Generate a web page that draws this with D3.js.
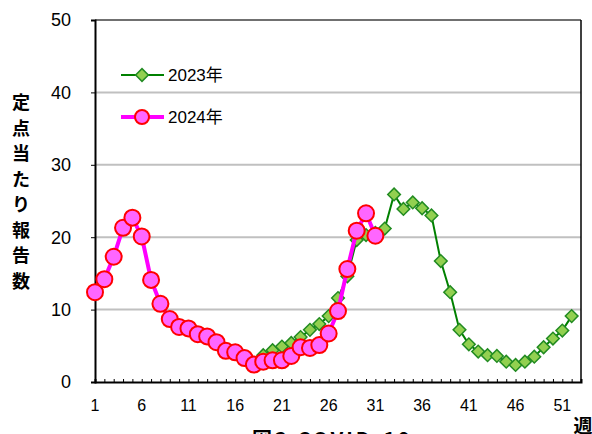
<!DOCTYPE html>
<html>
<head>
<meta charset="utf-8">
<script src="https://cdn.jsdelivr.net/npm/d3@7"></script>
<style>
  body { margin: 0; background: #fff; }
  svg { display: block; }
  .tick-label { font-family: "Liberation Sans", Arial, sans-serif; fill: #000; }
</style>
</head>
<body>
<div id="chart"></div>
<script>
// weeks and values
var weeks2024 = d3.range(1, 32);
var values2024 = [12.4, 14.2, 17.3, 21.3, 22.7, 20.1, 14.1, 10.8, 8.7, 7.6,
                  7.4, 6.6, 6.3, 5.5, 4.3, 4.1, 3.3, 2.4, 2.8, 3.0,
                  3.0, 3.6, 4.8, 4.7, 5.1, 6.7, 9.8, 15.6, 20.9, 23.3, 20.2];

var weeks2023 = d3.range(19, 53);
var values2023 = [3.7, 4.4, 4.9, 5.4, 6.2, 7.2, 8.0, 9.1, 11.6, 14.6,
                  19.6, 20.3, 20.6, 21.2, 25.9, 23.9, 24.8, 24.0, 23.0, 16.7,
                  12.4, 7.2, 5.2, 4.2, 3.7, 3.6, 2.8, 2.35, 2.8, 3.5,
                  4.8, 6.0, 7.1, 9.1];

var yTicks = [0, 10, 20, 30, 40, 50];
var xTicks = [1, 6, 11, 16, 21, 26, 31, 36, 41, 46, 51];
var yTitle = ["定", "点", "当", "た", "り", "報", "告", "数"];

var W = 592, H = 434;
var plotLeft = 95, plotRight = 581, plotTop = 20, plotBottom = 382;

var svg = d3.select("#chart").append("svg")
  .attr("width", W)
  .attr("height", H);

var x = d3.scaleLinear().domain([1, 53]).range([plotLeft, plotRight]);
var y = d3.scaleLinear().domain([0, 50]).range([plotBottom, plotTop]);

// gridlines
svg.append("g")
  .selectAll("line")
  .data(yTicks.filter(d => d > 0 && d < 50))
  .enter().append("line")
    .attr("x1", plotLeft).attr("x2", plotRight)
    .attr("y1", d => y(d)).attr("y2", d => y(d))
    .attr("stroke", "#c0c0c0")
    .attr("stroke-width", 2);

// frame: top and right
svg.append("line")
  .attr("x1", plotLeft).attr("x2", plotRight)
  .attr("y1", y(50)).attr("y2", y(50))
  .attr("stroke", "#404040").attr("stroke-width", 1.5);
svg.append("line")
  .attr("x1", plotRight).attr("x2", plotRight)
  .attr("y1", y(50)).attr("y2", y(0))
  .attr("stroke", "#000").attr("stroke-width", 1.5);

// Y axis
svg.append("g")
  .attr("transform", "translate(" + plotLeft + ",0)")
  .call(d3.axisLeft(y).tickValues(yTicks).tickSize(4).tickFormat(""))
  .call(g => g.select(".domain").attr("stroke-width", 2));

svg.append("g")
  .selectAll("text")
  .data(yTicks)
  .enter().append("text")
    .attr("class", "tick-label")
    .attr("x", 71)
    .attr("y", d => y(d))
    .attr("dy", "0.36em")
    .attr("text-anchor", "end")
    .style("font-size", "18px")
    .text(d => d);

// X axis with a small inside tick for every week
svg.append("g")
  .attr("transform", "translate(0," + plotBottom + ")")
  .call(d3.axisBottom(x).tickValues(d3.range(1, 54)).tickSize(-3).tickFormat(""))
  .call(g => g.select(".domain").attr("stroke-width", 2))
  .call(g => g.selectAll(".tick line").attr("stroke-width", 1));

svg.append("g")
  .selectAll("text")
  .data(xTicks)
  .enter().append("text")
    .attr("class", "tick-label")
    .attr("x", d => x(d))
    .attr("y", 411)
    .attr("text-anchor", "middle")
    .style("font-size", "16px")
    .text(d => d);

// vertical y axis title
svg.append("g")
  .selectAll("text")
  .data(yTitle)
  .enter().append("text")
    .attr("x", 21)
    .attr("y", (d, i) => 109 + i * 25.5)
    .attr("text-anchor", "middle")
    .style("font-family", "'Noto Sans CJK JP', sans-serif")
    .style("font-size", "18px")
    .style("font-weight", "bold")
    .text(d => d);

// x axis unit
svg.append("text")
  .attr("x", 583)
  .attr("y", 433)
  .attr("text-anchor", "middle")
  .style("font-family", "'Noto Sans CJK JP', sans-serif")
  .style("font-size", "19px")
  .style("font-weight", "bold")
  .text("週");

// figure caption, cut off at the bottom edge
svg.append("text")
  .attr("x", 252)
  .attr("y", 447)
  .style("font-family", "'Noto Sans CJK JP', sans-serif")
  .style("font-size", "20px")
  .style("font-weight", "bold")
  .style("letter-spacing", "3px")
  .text("図3 COVID-19");

var line = d3.line().x(d => x(d[0])).y(d => y(d[1]));
var diamond = d3.symbol().type(d3.symbolSquare).size(80);

var data2023 = weeks2023.map((w, i) => [w, values2023[i]]);
var data2024 = weeks2024.map((w, i) => [w, values2024[i]]);

// 2023 series
svg.append("path")
  .datum(data2023)
  .attr("fill", "none")
  .attr("stroke", "#008000")
  .attr("stroke-width", 2)
  .attr("d", line);

svg.append("g")
  .selectAll("path")
  .data(data2023)
  .enter().append("path")
    .attr("d", diamond)
    .attr("transform", d => "translate(" + x(d[0]) + "," + y(d[1]) + ") rotate(45)")
    .attr("fill", "#92d050")
    .attr("stroke", "#228b22")
    .attr("stroke-width", 1.5);

// 2024 series
svg.append("path")
  .datum(data2024)
  .attr("fill", "none")
  .attr("stroke", "#ff00ff")
  .attr("stroke-width", 4)
  .attr("d", line);

svg.append("g")
  .selectAll("circle")
  .data(data2024)
  .enter().append("circle")
    .attr("cx", d => x(d[0]))
    .attr("cy", d => y(d[1]))
    .attr("r", 8)
    .attr("fill", "#ff66ff")
    .attr("stroke", "#ff0000")
    .attr("stroke-width", 2);

// legend
var legend = [
  { label: "2023年", yPos: 75, kind: "diamond" },
  { label: "2024年", yPos: 117, kind: "circle" }
];

legend.forEach(function (l) {
  var g = svg.append("g");
  g.append("line")
    .attr("x1", 121).attr("x2", 164)
    .attr("y1", l.yPos).attr("y2", l.yPos)
    .attr("stroke", l.kind === "diamond" ? "#008000" : "#ff00ff")
    .attr("stroke-width", l.kind === "diamond" ? 2 : 4);
  if (l.kind === "diamond") {
    g.append("path")
      .attr("d", diamond)
      .attr("transform", "translate(142," + l.yPos + ") rotate(45)")
      .attr("fill", "#92d050")
      .attr("stroke", "#228b22")
      .attr("stroke-width", 1.5);
  } else {
    g.append("circle")
      .attr("cx", 142).attr("cy", l.yPos).attr("r", 7)
      .attr("fill", "#ff66ff")
      .attr("stroke", "#ff0000")
      .attr("stroke-width", 2);
  }
  g.append("text")
    .attr("x", 168)
    .attr("y", l.yPos)
    .attr("dy", "0.36em")
    .style("font-family", "'Liberation Sans', 'Noto Sans CJK JP', sans-serif")
    .style("font-size", "17px")
    .text(l.label);
});
</script>
</body>
</html>
